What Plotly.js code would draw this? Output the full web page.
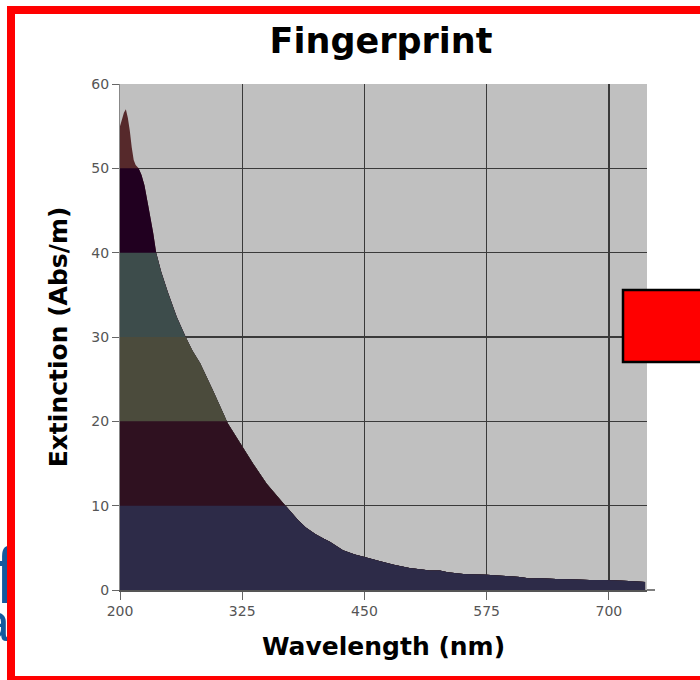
<!DOCTYPE html>
<html>
<head>
<meta charset="utf-8">
<script src="https://cdn.plot.ly/plotly-3.0.1.min.js"></script>
<style>
  html, body { margin: 0; padding: 0; background: #ffffff; overflow: hidden; }
  #wrap { position: relative; width: 700px; height: 680px; overflow: hidden; }
  #chart { position: absolute; left: 0; top: 0; width: 700px; height: 680px; z-index: 1; }
  #cover { position: absolute; left: 15px; top: 480px; width: 25px; height: 196px; background: #ffffff; z-index: 5; pointer-events: none; }
  #frame {
    position: absolute; left: 7px; top: 6px; width: 720px; height: 674px; z-index: 10;
    box-sizing: border-box; pointer-events: none;
    border-left: 8px solid #ff0000; border-top: 8px solid #ff0000; border-bottom: 4px solid #ff0000;
  }
</style>
</head>
<body>
<div id="wrap">
  <div id="chart"></div>
  <div id="cover"></div>
  <div id="frame"></div>
</div>
<script>
// ---- data ----
const wavelength = [200, 202, 204, 206, 208, 210, 212, 214, 216, 219, 222, 225, 229, 234, 237, 242, 249, 258, 268, 274, 282, 295, 307, 310, 323, 336, 350, 367, 382, 390, 400, 408, 415, 428, 440, 449, 466, 480, 496, 517, 527, 535, 551, 575, 590, 602, 609, 619, 630, 646, 660, 680, 697, 715, 725, 737];
const extinction = [55.0, 55.8, 56.6, 57.0, 56.0, 54.5, 52.5, 51.0, 50.4, 50.0, 49.2, 48.0, 45.5, 42.3, 40.0, 37.8, 35.3, 32.4, 29.8, 28.4, 26.9, 23.7, 20.6, 19.8, 17.4, 15.0, 12.6, 10.3, 8.3, 7.4, 6.6, 6.1, 5.7, 4.7, 4.2, 3.95, 3.4, 3.0, 2.6, 2.3, 2.3, 2.1, 1.9, 1.8, 1.7, 1.6, 1.55, 1.35, 1.4, 1.3, 1.27, 1.2, 1.19, 1.1, 1.05, 0.95];

// colour bands (upper limit of each band) and their colours
const bandTops = [60, 50, 40, 30, 20, 10];
const bandColors = ['#56292b', '#210020', '#3d4c4b', '#4b4b3c', '#2f1120', '#2d2b48'];

const xTickVals = [200, 325, 450, 575, 700];
const yTickVals = [0, 10, 20, 30, 40, 50, 60];

const titleText = 'Fingerprint';
const xTitle = 'Wavelength (nm)';
const yTitle = 'Extinction (Abs/m)';

// ---- build clipped band traces from the data ----
function clipAt(xs, ys, top) {
  const ox = [], oy = [];
  for (let i = 0; i < xs.length; i++) {
    ox.push(xs[i]); oy.push(Math.min(ys[i], top));
    if (i < xs.length - 1) {
      const a = ys[i] - top, b = ys[i + 1] - top;
      if (a * b < 0) {
        const t = a / (a - b);
        ox.push(xs[i] + t * (xs[i + 1] - xs[i]));
        oy.push(top);
      }
    }
  }
  return { x: ox, y: oy };
}

const traces = bandTops.map((top, k) => {
  const c = clipAt(wavelength, extinction, top);
  return {
    type: 'scatter', mode: 'none', x: c.x, y: c.y,
    fill: 'tozeroy', fillcolor: bandColors[k],
    hoverinfo: 'skip', showlegend: false
  };
});

// ---- page geometry helpers (pixel -> paper) ----
const W = 700, H = 680;
const M = { l: 120, r: 53, t: 84, b: 90 };
const pw = W - M.l - M.r, ph = H - M.t - M.b;
const px = v => (v - M.l) / pw;
const py = v => (H - M.b - v) / ph;

const shapes = [
  // red box at right
  { type: 'rect', xref: 'paper', yref: 'paper', x0: px(623), x1: px(720), y0: py(362), y1: py(290), fillcolor: '#ff0000', line: { color: '#000000', width: 2.5 }, layer: 'above' },
  // x axis line overhang
  { type: 'line', xref: 'paper', yref: 'paper', x0: 1, x1: px(655), y0: 0, y1: 0, line: { color: '#555555', width: 1.5 }, layer: 'above' }
];

const annotations = [
  { xref: 'paper', yref: 'paper', x: px(-7), y: py(575), xanchor: 'left', yanchor: 'middle', text: 'f', showarrow: false, font: { family: 'Liberation Sans, Arial, sans-serif', size: 80, color: '#145a9e' } },
  { xref: 'paper', yref: 'paper', x: px(13), y: py(622), xanchor: 'right', yanchor: 'middle', text: 'a', showarrow: false, font: { family: 'Liberation Sans, Arial, sans-serif', size: 54, color: '#145a9e' } }
];

const tickFont = { family: 'DejaVu Sans, sans-serif', size: 14, color: '#555555' };
const titleFont = { family: 'DejaVu Sans, sans-serif', size: 25, color: '#000000', weight: 'bold' };

const layout = {
  width: W, height: H,
  margin: M,
  paper_bgcolor: '#ffffff',
  plot_bgcolor: '#c0c0c0',
  showlegend: false,
  title: {
    text: titleText,
    font: { family: 'DejaVu Sans, sans-serif', size: 35, color: '#000000', weight: 'bold' },
    xref: 'container', x: 381 / W, xanchor: 'center',
    yref: 'container', y: 1 - 41 / H, yanchor: 'middle'
  },
  xaxis: {
    range: [200, 739], tickvals: xTickVals, ticktext: xTickVals.map(String),
    showgrid: true, gridcolor: '#3a3a3a', gridwidth: 1.3,
    zeroline: false, showline: true, linecolor: '#555555', linewidth: 1.5,
    ticks: 'outside', ticklen: 8, tickcolor: '#666666', tickwidth: 1,
    tickfont: tickFont,
    title: { text: xTitle, font: titleFont, standoff: 19 }
  },
  yaxis: {
    range: [0, 60], tickvals: yTickVals, ticktext: yTickVals.map(String),
    showgrid: true, gridcolor: '#3a3a3a', gridwidth: 1.3,
    zeroline: false, showline: true, linecolor: '#888888', linewidth: 1,
    ticks: 'outside', ticklen: 7, tickcolor: '#666666', tickwidth: 1,
    tickfont: tickFont,
    title: { text: yTitle, font: titleFont, standoff: 16 }
  },
  shapes: shapes,
  annotations: annotations
};

Plotly.newPlot('chart', traces, layout, { displayModeBar: false, staticPlot: true });
</script>
</body>
</html>
